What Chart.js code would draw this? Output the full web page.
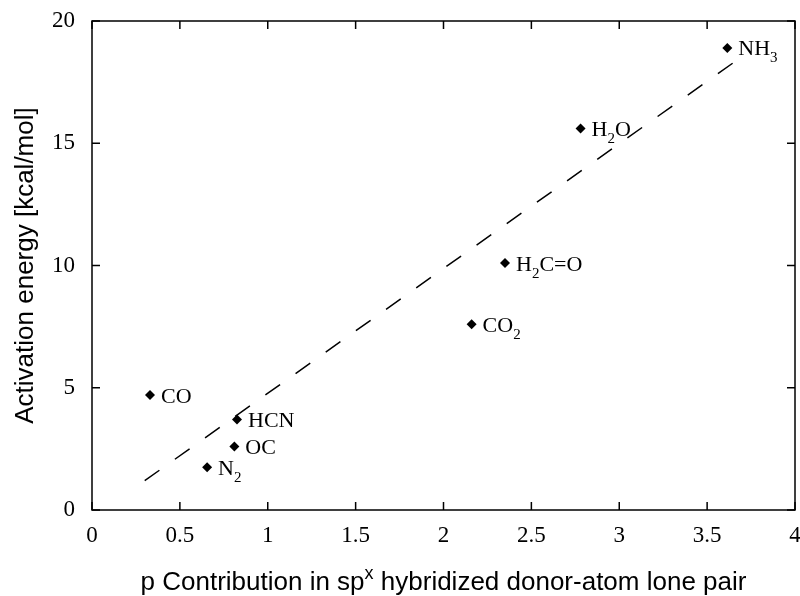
<!DOCTYPE html>
<html>
<head>
<meta charset="utf-8">
<script src="https://cdn.jsdelivr.net/npm/chart.js@4/dist/chart.umd.min.js"></script>
<style>
  html, body { margin: 0; padding: 0; background: #fff; }
  #wrap { width: 800px; height: 596px; }
</style>
</head>
<body>
<div id="wrap"><canvas id="chart" width="800" height="596"></canvas></div>
<script>
// data
// '_' marks the next char as a subscript
const compounds        = ['NH_3', 'H_2O', 'H_2C=O', 'CO_2', 'CO', 'HCN', 'OC', 'N_2'];
const pContribution    = [3.615, 2.78, 2.35, 2.16, 0.33, 0.825, 0.81, 0.655];
const activationEnergy = [18.9, 15.6, 10.1, 7.6, 4.7, 3.7, 2.6, 1.75];

// dashed fit line, two end points
const fitX = [0.3, 3.67];
const fitY = [1.2, 18.4];

const xTicks = [0, 0.5, 1, 1.5, 2, 2.5, 3, 3.5, 4];
const yTicks = [0, 5, 10, 15, 20];

const SERIF = '"Liberation Serif", "Times New Roman", serif';
const SANS  = '"Liberation Sans", Arial, sans-serif';

// draw text with _x subscripts / ^x superscripts, starting at x, baseline y
function drawRich(ctx, txt, x, y, size) {
  let cx = x;
  for (let k = 0; k < txt.length; k++) {
    let ch = txt[k];
    if ((ch === '_' || ch === '^') && k + 1 < txt.length) {
      let s = txt[k + 1];
      ctx.font = Math.round(size * 0.7) + 'px ' + ctx._fam;
      let dy = ch === '_' ? size * 0.32 : -size * 0.42;
      ctx.fillText(s, cx, y + dy);
      cx += ctx.measureText(s).width;
      k++;
      continue;
    }
    ctx.font = size + 'px ' + ctx._fam;
    ctx.fillText(ch, cx, y);
    cx += ctx.measureText(ch).width;
  }
  return cx - x;
}

function richWidth(ctx, txt, size) {
  let w = 0;
  for (let k = 0; k < txt.length; k++) {
    let ch = txt[k];
    if ((ch === '_' || ch === '^') && k + 1 < txt.length) {
      ctx.font = Math.round(size * 0.7) + 'px ' + ctx._fam;
      w += ctx.measureText(txt[k + 1]).width;
      k++;
      continue;
    }
    ctx.font = size + 'px ' + ctx._fam;
    w += ctx.measureText(ch).width;
  }
  return w;
}

const framePlugin = {
  id: 'frame',
  afterDraw(chart) {
    const ctx = chart.ctx;
    const a = chart.chartArea;
    const xs = chart.scales.x, ys = chart.scales.y;
    ctx.save();
    ctx.strokeStyle = '#000';
    ctx.lineWidth = 1.5;
    ctx.strokeRect(a.left, a.top, a.right - a.left, a.bottom - a.top);
    // inward ticks on all four sides
    ctx.beginPath();
    xs.ticks.forEach(t => {
      const px = xs.getPixelForValue(t.value);
      ctx.moveTo(px, a.bottom); ctx.lineTo(px, a.bottom - 8);
      ctx.moveTo(px, a.top);    ctx.lineTo(px, a.top + 8);
    });
    ys.ticks.forEach(t => {
      const py = ys.getPixelForValue(t.value);
      ctx.moveTo(a.left, py);  ctx.lineTo(a.left + 8, py);
      ctx.moveTo(a.right, py); ctx.lineTo(a.right - 8, py);
    });
    ctx.stroke();

    // point labels
    ctx.fillStyle = '#000';
    ctx.textAlign = 'left';
    ctx.textBaseline = 'alphabetic';
    ctx._fam = SERIF;
    const meta = chart.getDatasetMeta(1);
    meta.data.forEach((pt, idx) => {
      drawRich(ctx, compounds[idx], pt.x + 11, pt.y + 7.5, 22);
    });

    // x axis title with superscript
    ctx._fam = SANS;
    const title = 'p Contribution in sp^x hybridized donor-atom lone pair';
    const w = richWidth(ctx, title, 26);
    const cx = (a.left + a.right) / 2;
    drawRich(ctx, title, cx - w / 2, 590, 26);
    ctx.restore();
  }
};

const ctx = document.getElementById('chart').getContext('2d');

const points = pContribution.map((v, k) => ({ x: v, y: activationEnergy[k] }));
const fitLine = fitX.map((v, k) => ({ x: v, y: fitY[k] }));

new Chart(ctx, {
  type: 'scatter',
  data: {
    datasets: [
      {
        type: 'line',
        data: fitLine,
        borderColor: '#000',
        borderWidth: 1.5,
        borderDash: [18, 19],
        pointRadius: 0,
        fill: false
      },
      {
        data: points,
        pointStyle: 'rectRot',
        pointRadius: 5,
        backgroundColor: '#000',
        borderColor: '#000',
        borderWidth: 0
      }
    ]
  },
  options: {
    responsive: false,
    animation: false,
    layout: { padding: { top: 21, right: 2, left: 0, bottom: 0 } },
    plugins: {
      legend: { display: false },
      tooltip: { enabled: false }
    },
    scales: {
      x: {
        type: 'linear',
        min: 0, max: 4,
        afterBuildTicks: s => { s.ticks = xTicks.map(v => ({ value: v })); },
        afterFit: s => { s.height = 86; s.paddingLeft = 0; s.paddingRight = 0; },
        grid: { display: false, drawOnChartArea: false },
        border: { display: false },
        ticks: {
          color: '#000',
          padding: 4,
          font: { family: SERIF, size: 23 },
          maxRotation: 0,
          callback: v => String(v)
        }
      },
      y: {
        type: 'linear',
        min: 0, max: 20,
        afterBuildTicks: s => { s.ticks = yTicks.map(v => ({ value: v })); },
        afterFit: s => { s.width = 92; s.paddingTop = 0; s.paddingBottom = 0; },
        grid: { display: false, drawOnChartArea: false },
        border: { display: false },
        title: {
          display: true,
          text: 'Activation energy [kcal/mol]',
          color: '#000',
          font: { family: SANS, size: 26 },
          padding: { top: 10, bottom: 0 }
        },
        ticks: {
          color: '#000',
          padding: 9,
          font: { family: SERIF, size: 23 },
          callback: v => String(v)
        }
      }
    }
  },
  plugins: [framePlugin]
});
</script>
</body>
</html>
